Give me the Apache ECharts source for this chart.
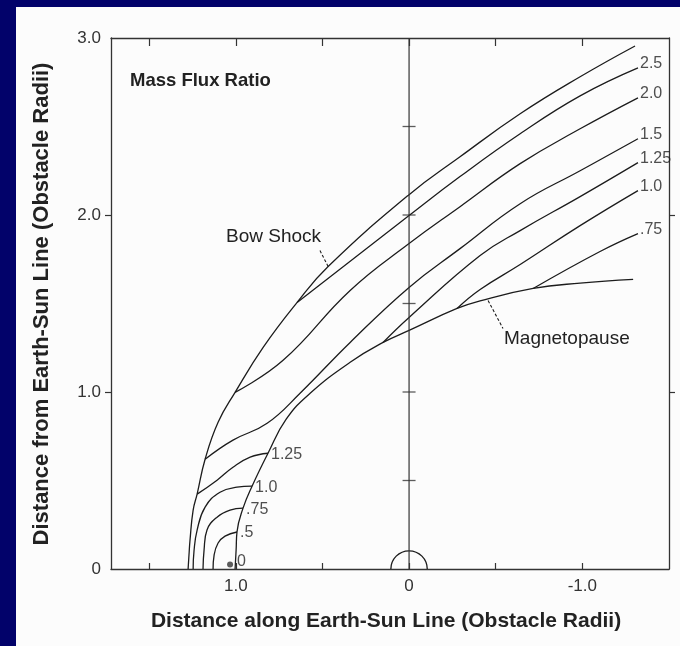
<!DOCTYPE html>
<html><head><meta charset="utf-8">
<script src="https://cdn.jsdelivr.net/npm/echarts@6/dist/echarts.min.js"></script>
<style>
html,body{margin:0;padding:0;background:#02026a;width:680px;height:646px;overflow:hidden;}
#chart{position:absolute;left:16px;top:7px;width:664px;height:639px;background:#fcfcfc;}
</style></head><body><div id="chart"></div>
<script>
// ---- axis ticks / labels ----
const xTickValues = [1.5, 1.0, 0.5, 0, -0.5, -1.0];
const xLabelValues = [1.0, 0, -1.0];
const yLabelValues = [0, 1, 2, 3];
const yTickValues = [1, 2];
const centerTickValues = [0.5, 1.0, 1.5, 2.0, 2.5];
const centerLine = [[0, 0], [0, 3]];
const earthRadius = 0.105;

// ---- boundaries (x = distance along Earth-Sun line, y = distance from it) ----
const bowShock = [[1.275,0],[1.270,0.079],[1.264,0.164],[1.246,0.333],[1.223,0.423],[1.177,0.620],[1.102,0.829],[1.004,0.998],[0.842,1.252],[0.646,1.506],[0.467,1.709],[0,2.115],[-0.294,2.329],[-0.641,2.572],[-0.987,2.781],[-1.304,2.955]];
const magnetopause = [[1.004,0],[0.998,0.107],[0.993,0.209],[0.958,0.344],[0.906,0.468],[0.814,0.654],[0.710,0.845],[0.571,0.993],[0.340,1.168],[0.150,1.280],[0,1.348],[-0.277,1.472],[-0.410,1.515],[-0.716,1.585],[-0.987,1.615],[-1.293,1.636]];

// ---- mass flux ratio contours: downstream (labelled at right edge) ----
const contour25 = [[0.646,1.506],[0,1.997],[-0.294,2.217],[-0.641,2.459],[-0.987,2.673],[-1.321,2.831]];
const contour20 = [[1.004,0.998],[0.727,1.179],[0.340,1.574],[0,1.839],[-0.294,2.047],[-0.641,2.290],[-0.987,2.487],[-1.321,2.662]];
const contour15 = [[1.177,0.620],[1.016,0.728],[0.819,0.823],[0.629,0.993],[0.340,1.280],[0,1.591],[-0.294,1.810],[-0.641,2.064],[-0.987,2.250],[-1.321,2.431]];
const contour125Tail = [[0.150,1.280],[0,1.421],[-0.410,1.771],[-0.641,1.912],[-0.987,2.104],[-1.321,2.296]];
const contour10Tail = [[-0.277,1.472],[-0.410,1.579],[-0.641,1.720],[-0.987,1.940],[-1.321,2.138]];
const contour075Tail = [[-0.716,1.585],[-1.102,1.794],[-1.321,1.895]];

// ---- contours near the nose (labelled at the magnetopause) ----
const contour125Nose = [[1.223,0.423],[1.108,0.502],[1.016,0.575],[0.917,0.632],[0.814,0.654]];
const contour10Nose = [[1.246,0],[1.241,0.102],[1.223,0.220],[1.177,0.350],[1.091,0.434],[0.993,0.462],[0.906,0.468]];
const contour075Nose = [[1.189,0],[1.183,0.107],[1.166,0.220],[1.108,0.293],[1.033,0.333],[0.958,0.344]];
const contour05Nose = [[1.131,0],[1.125,0.079],[1.102,0.147],[1.062,0.186],[0.993,0.209]];
const stagnationPoint = [[1.033,0.025]];

const tailContours = [
  {name:'2.5', pts:contour25},{name:'2.0', pts:contour20},{name:'1.5', pts:contour15},
  {name:'1.25', pts:contour125Tail},{name:'1.0', pts:contour10Tail},{name:'.75', pts:contour075Tail}
];
const noseContours = [
  {name:'1.25', pts:contour125Nose},{name:'1.0', pts:contour10Nose},{name:'.75', pts:contour075Nose},{name:'.5', pts:contour05Nose}
];

// leader lines for annotations
const bowLeader = [[0.467,1.709],[0.514,1.799]];
const mpLeader = [[-0.456,1.517],[-0.542,1.359]];

const INK = '#1c1c1c';
const FONT = "'Liberation Sans', Arial, Helvetica, sans-serif";

function curve(data, extra) {
  return Object.assign({
    type:'line', data, showSymbol:false, symbol:'none', smooth:0.45,
    lineStyle:{color:INK, width:1.3}, silent:true, animation:false, z:3
  }, extra || {});
}

const series = [];
series.push(curve(bowShock));
series.push(curve(magnetopause));
tailContours.concat(noseContours).forEach(c => series.push(curve(c.pts)));
series.push(curve(centerLine, {smooth:false, lineStyle:{color:'#333', width:1.2}}));
series.push({
  type:'scatter', data: centerTickValues.map(v => [0, v]), symbol:'rect', symbolSize:[13,1.3],
  itemStyle:{color:'#333'}, silent:true, animation:false
});
series.push(curve(bowLeader, {smooth:false, lineStyle:{color:INK, width:1.1, type:[3,2]}}));
series.push(curve(mpLeader, {smooth:false, lineStyle:{color:INK, width:1.1, type:[3,2]}}));
series.push({
  type:'custom', data:[[0, 0, earthRadius]], animation:false, silent:true,
  renderItem(params, api) {
    const c = api.coord([api.value(0), api.value(1)]);
    const r = api.size([api.value(2), 0])[0];
    return {type:'arc', shape:{cx:c[0], cy:c[1], r, startAngle:Math.PI, endAngle:2*Math.PI, clockwise:true},
      style:{stroke:INK, fill:'none', lineWidth:1.3}};
  }
});
// labels at contour ends
series.push({
  type:'scatter', symbolSize:0, silent:true, animation:false,
  data: tailContours.map(c => ({value:c.pts[c.pts.length-1], label:{formatter:c.name}})),
  label:{show:true, position:'right', distance:2, offset:[0,-4], fontSize:16, color:'#222', fontFamily:FONT}
});
series.push({
  type:'scatter', symbolSize:0, silent:true, animation:false,
  data: noseContours.map(c => ({value:c.pts[c.pts.length-1], label:{formatter:c.name}})),
  label:{show:true, position:'right', distance:3, offset:[0,1], fontSize:16, color:'#222', fontFamily:FONT}
});
series.push({
  type:'scatter', data: stagnationPoint, symbol:'circle', symbolSize:6, itemStyle:{color:'#333'},
  silent:true, animation:false,
  label:{show:true, formatter:'0', position:'right', distance:4, offset:[0,-3], fontSize:16, color:'#222', fontFamily:FONT}
});

const fmt = v => v === 0 ? '0' : v.toFixed(1);
const axisLine = {onZero:false, lineStyle:{color:'#333', width:1.3}};

const option = {
  backgroundColor:'#fcfcfc',
  animation:false,
  grid:{left:95, right:11, top:31, bottom:77, containLabel:false},
  xAxis:[
    {type:'value', inverse:true, min:-1.5, max:1.72, interval:0.5, position:'bottom',
     axisLine, splitLine:{show:false},
     axisTick:{inside:true, length:6, customValues:xTickValues, lineStyle:{color:'#333', width:1.2}},
     axisLabel:{customValues:xLabelValues, formatter:fmt, fontSize:17, color:'#333', margin:9, fontFamily:FONT}},
    {type:'value', inverse:true, min:-1.5, max:1.72, interval:0.5, position:'top',
     axisLine, splitLine:{show:false},
     axisTick:{inside:true, length:8, customValues:xTickValues, lineStyle:{color:'#333', width:1.2}},
     axisLabel:{show:false}}
  ],
  yAxis:[
    {type:'value', min:0, max:3, interval:1, position:'left', axisLine, splitLine:{show:false},
     axisTick:{inside:false, length:6, customValues:yTickValues, lineStyle:{color:'#333', width:1.2}},
     axisLabel:{customValues:yLabelValues, formatter:fmt, fontSize:17, color:'#333', margin:10, fontFamily:FONT}},
    {type:'value', min:0, max:3, interval:1, position:'right', axisLine, splitLine:{show:false},
     axisTick:{inside:false, length:6, customValues:yTickValues, lineStyle:{color:'#333', width:1.2}},
     axisLabel:{show:false}}
  ],
  graphic:[
    {type:'text', x:114, y:74, style:{text:'Mass Flux Ratio', font:"bold 18.5px " + FONT, fill:'#222', verticalAlign:'middle'}},
    {type:'text', x:210, y:230, style:{text:'Bow Shock', font:"19px " + FONT, fill:'#222', verticalAlign:'middle'}},
    {type:'text', x:488, y:332, style:{text:'Magnetopause', font:"19px " + FONT, fill:'#222', verticalAlign:'middle'}},
    {type:'text', x:370, y:614, style:{text:'Distance along Earth-Sun Line (Obstacle Radii)', font:"bold 21px " + FONT, fill:'#222', align:'center', verticalAlign:'middle'}},
    {type:'text', x:26, y:297, rotation:Math.PI/2, style:{text:'Distance from Earth-Sun Line (Obstacle Radii)', font:"bold 22px " + FONT, fill:'#222', align:'center', verticalAlign:'middle'}}
  ],
  series
};
const chart = echarts.init(document.getElementById('chart'), null, {renderer:'canvas'});
chart.setOption(option);
</script></body></html>
